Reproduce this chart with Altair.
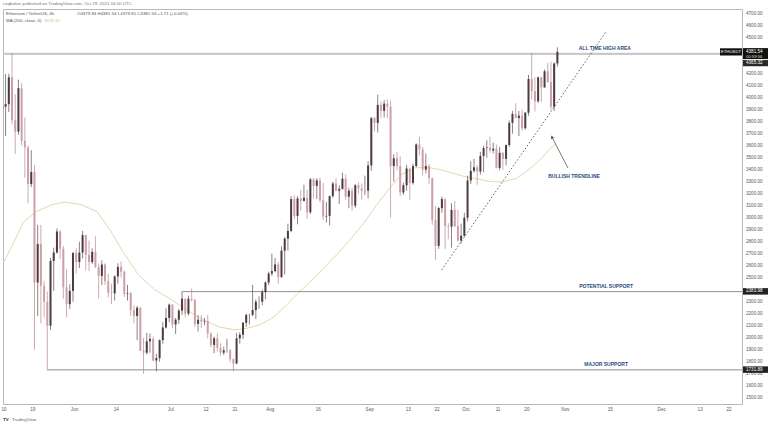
import altair as alt
import pandas as pd

# ---- 4h ETH/USDT chart values (read as daily candles), day 0 = 10 May 2021 ----
days = list(range(-1, 173))
closes = [3925, 3946, 4170, 3812, 3717, 4079, 3640, 3585, 3280, 3380,
          2460, 2780, 2432, 2300, 2100, 2640, 2710, 2885, 2740, 2420,
          2280, 2390, 2705, 2630, 2710, 2855, 2690, 2630, 2715, 2590,
          2515, 2610, 2470, 2375, 2370, 2510, 2590, 2550, 2365, 2370,
          2230, 2180, 2250, 1890, 1875, 1970, 1990, 1810, 1830, 1980,
          2085, 2165, 2275, 2110, 2150, 2225, 2325, 2200, 2325, 2315,
          2115, 2150, 2135, 2140, 2035, 1940, 1995, 1915, 1875, 1895,
          1895, 1820, 1785, 1995, 2025, 2125, 2190, 2190, 2230, 2300,
          2300, 2380, 2460, 2535, 2555, 2610, 2505, 2725, 2825, 2890,
          3155, 3015, 3160, 3140, 3165, 3045, 3320, 3265, 3310, 3145,
          3010, 3015, 3180, 3285, 3225, 3240, 3325, 3175, 3225, 3100,
          3270, 3245, 3225, 3225, 3435, 3830, 3790, 3940, 3890, 3950,
          3925, 3430, 3495, 3430, 3210, 3270, 3410, 3290, 3430, 3610,
          3570, 3400, 3430, 3330, 2980, 2765, 3080, 3155, 2930, 2925,
          3065, 2930, 2810, 2850, 3000, 3310, 3390, 3420, 3385, 3515,
          3580, 3585, 3560, 3575, 3415, 3540, 3490, 3605, 3790, 3865,
          3830, 3850, 3745, 3875, 4155, 4055, 3970, 4170, 4085, 4220,
          4130, 3925, 4285, 4381.54]
opens = [3910] + closes[:-1]
highs = [3980, 4197, 4200, 4372, 4030, 4150, 4120, 3835, 3600, 3562,
         3438, 2940, 2940, 2475, 2385, 2665, 2750, 2910, 2895, 2765,
         2570, 2445, 2715, 2745, 2800, 2890, 2858, 2810, 2745, 2845,
         2620, 2645, 2620, 2530, 2450, 2520, 2620, 2635, 2560, 2440,
         2380, 2270, 2265, 2255, 2000, 2040, 2035, 2010, 1865, 1985,
         2130, 2245, 2285, 2280, 2165, 2240, 2390, 2325, 2350, 2410,
         2325, 2190, 2190, 2165, 2190, 2045, 2010, 2035, 1955, 1925,
         1990, 1905, 1830, 2040, 2045, 2130, 2200, 2200, 2440, 2320,
         2345, 2400, 2470, 2550, 2700, 2665, 2630, 2760, 2840, 2950,
         3180, 3185, 3180, 3230, 3275, 3235, 3330, 3330, 3330, 3335,
         3290, 3130, 3185, 3300, 3330, 3270, 3375, 3360, 3250, 3250,
         3280, 3295, 3285, 3350, 3470, 3840, 3840, 4025, 3970, 3980,
         3985, 3975, 3530, 3550, 3510, 3290, 3440, 3410, 3450, 3620,
         3675, 3590, 3535, 3445, 3335, 3100, 3090, 3175, 3160, 2955,
         3120, 3140, 3065, 2950, 3040, 3350, 3470, 3490, 3440, 3550,
         3600, 3645, 3675, 3625, 3610, 3590, 3545, 3610, 3810, 3890,
         3955, 3890, 3900, 3880, 4190, 4375, 4170, 4175, 4175, 4235,
         4290, 4300, 4295, 4420]
lows = [3780, 3680, 3880, 3780, 3530, 3690, 3600, 3333, 3120, 3255,
        1900, 2180, 2120, 2170, 1732, 2065, 2390, 2700, 2655, 2325,
        2170, 2240, 2300, 2535, 2580, 2660, 2560, 2555, 2615, 2580,
        2325, 2440, 2440, 2335, 2280, 2310, 2450, 2500, 2340, 2310,
        2180, 2120, 1980, 1890, 1700, 1860, 1875, 1805, 1720, 1800,
        1950, 2075, 2130, 2080, 2030, 2115, 2190, 2170, 2185, 2300,
        2090, 2050, 2080, 2105, 1995, 1920, 1870, 1885, 1850, 1855,
        1875, 1795, 1718, 1780, 1950, 1990, 2090, 2110, 2180, 2155,
        2240, 2270, 2320, 2440, 2515, 2545, 2450, 2500, 2525, 2725,
        2880, 2990, 2945, 3060, 3135, 2990, 3030, 3160, 3155, 3130,
        2980, 2960, 2935, 3165, 3220, 3115, 3235, 3150, 3080, 3060,
        3080, 3200, 3150, 3190, 3160, 3390, 3720, 3710, 3830, 3835,
        3830, 3000, 3300, 3395, 3180, 3190, 3225, 3150, 3275, 3420,
        3520, 3350, 3370, 3280, 2940, 2650, 2740, 3040, 2740, 2820,
        2750, 2920, 2800, 2785, 2840, 2970, 3280, 3375, 3275, 3360,
        3380, 3500, 3540, 3535, 3410, 3395, 3400, 3435, 3590, 3700,
        3825, 3680, 3725, 3735, 3850, 3985, 3885, 3955, 3965, 4085,
        4125, 3900, 3890, 4260]

# MA (200, close)
ma_days = [-0.3, 3, 6, 10, 15, 19, 24, 29, 33, 37, 42, 47, 52, 57, 62, 67, 72, 76,
           80, 84, 88, 92, 96, 100, 104, 108, 112, 116, 120, 124, 128, 132, 136,
           140, 144, 148, 152, 156, 160, 164, 167, 170, 172.2]
ma_vals = [2620, 2790, 2960, 3050, 3110, 3130, 3110, 3050, 2900, 2720, 2520, 2400,
           2320, 2230, 2150, 2090, 2065, 2080, 2110, 2170, 2270, 2380, 2480, 2590,
           2700, 2820, 2950, 3100, 3240, 3360, 3415, 3420, 3400, 3370, 3340, 3320,
           3300, 3300, 3330, 3410, 3480, 3570, 3620]

# horizontal levels
level_names = ["ath", "potential", "major"]
level_prices = [4365.32, 2383.98, 1731.89]
level_start = [-0.31, 55.8, 13.4]
level_labels = ["4365.32", "2383.98", "1731.89"]

# trendline
trend_days = [136.4, 187.6]
trend_prices = [2564, 4547]

# annotations
ann_text = ["ALL TIME HIGH AREA", "BULLISH TRENDLINE", "POTENTIAL SUPPORT", "MAJOR SUPPORT"]
ann_days = [187.3, 177.7, 187.7, 187.7]
ann_prices = [4414, 3348, 2431, 1781]

arrow_days = [175.8, 170.8]
arrow_prices = [3414, 3672]

# axis ticks (price labels hidden by the price boxes are not shown, as in the reference)
tick_days = [0, 9, 22, 35, 52, 63, 72, 83, 98, 114, 126, 135, 144, 154, 163, 175, 189, 205, 217, 226]
tick_labels = ["10", "19", "Jun", "14", "Jul", "12", "21", "Aug", "16", "Sep", "13", "22",
               "Oct", "11", "20", "Nov", "15", "Dec", "13", "22"]
price_ticks = [1500, 1600, 1700, 1800, 1900, 2000, 2100, 2200, 2300, 2500, 2600, 2700,
               2800, 2900, 3000, 3100, 3200, 3300, 3400, 3500, 3600, 3700, 3800, 3900,
               4000, 4100, 4200, 4500, 4600, 4700]

last_price = 4381.54

header_texts = ["rizqbakor published on TradingView.com, Oct 29, 2021 04:00 UTC",
                "Ethereum / TetherUS, 4h",
                "O4379.84  H4381.54  L4379.81  C4381.54  +1.71 (+0.04%)",
                "MA (200, close, 0)",
                "3578.40",
                "TradingView", "TV"]

W, H = 739, 395
FONT = "Liberation Sans"
UP, DN = "#4a3c40", "#cf9fa6"
UPW, DNW = "#5a4a4f", "#b58790"
AX = "#555555"

df = pd.DataFrame({"day": days, "open": opens, "high": highs, "low": lows, "close": closes})
df["mid"] = df["day"] + 0.5

xs = alt.Scale(domain=[-0.31, 230.05], nice=False, zero=False)
ys = alt.Scale(domain=[1447.5, 4739], nice=False, zero=False)

ma = alt.Chart(pd.DataFrame({"d": ma_days, "v": ma_vals})).mark_line(
    color="#e8d6ae", strokeWidth=1, clip=True).encode(
    x=alt.X("d:Q", scale=xs, axis=None), y=alt.Y("v:Q", scale=ys, axis=None))

base = alt.Chart(df)
wicks = base.mark_rule(strokeWidth=0.7, clip=True).encode(
    x=alt.X("mid:Q", axis=None),
    y=alt.Y("low:Q", axis=None),
    y2="high:Q",
    color=alt.condition("datum.close >= datum.open", alt.value(UPW), alt.value(DNW)),
)
bodies = base.mark_rule(strokeWidth=2.0, clip=True).encode(
    x=alt.X("mid:Q", axis=None),
    y=alt.Y("open:Q", axis=None),
    y2="close:Q",
    color=alt.condition("datum.close >= datum.open", alt.value(UP), alt.value(DN)),
)

# axis labels drawn through the shared scales
xlab = alt.Chart(pd.DataFrame({"d": tick_days, "t": tick_labels})).mark_text(
    font=FONT, fontSize=4.6, color=AX, align="center").encode(
    x=alt.X("d:Q", axis=None), y=alt.value(H + 5.5), text="t:N")
ylab = alt.Chart(pd.DataFrame({"p": price_ticks})).mark_text(
    font=FONT, fontSize=4.6, color=AX, align="left").encode(
    x=alt.value(W + 4), y=alt.Y("p:Q", axis=None), text=alt.Text("p:Q", format=".2f"))

lv = pd.DataFrame({"name": level_names, "price": level_prices, "start": level_start,
                   "label": level_labels, "end": [230.05] * 3})
levels = alt.Chart(lv).mark_rule(clip=True).encode(
    x=alt.X("start:Q", axis=None), x2="end:Q",
    y=alt.Y("price:Q", axis=None),
    color=alt.condition("datum.name == 'ath'", alt.value("#c9c9c9"), alt.value("#8f8f8f")),
    strokeWidth=alt.condition("datum.name == 'ath'", alt.value(2.2), alt.value(1)),
)

trend = alt.Chart(pd.DataFrame({"d": trend_days, "p": trend_prices})).mark_line(
    color="#4d4d4d", strokeWidth=0.9, strokeDash=[1.5, 2]).encode(
    x=alt.X("d:Q", axis=None), y=alt.Y("p:Q", axis=None))

ann = alt.Chart(pd.DataFrame({"t": ann_text, "d": ann_days, "p": ann_prices})).mark_text(
    font=FONT, fontSize=5, fontWeight="bold", color="#2c4a7e", align="center").encode(
    x=alt.X("d:Q", axis=None), y=alt.Y("p:Q", axis=None), text="t:N")

arrow_df = pd.DataFrame({"d": arrow_days, "p": arrow_prices})
arrow_line = alt.Chart(arrow_df).mark_line(color="#555555", strokeWidth=0.8).encode(
    x=alt.X("d:Q", axis=None), y=alt.Y("p:Q", axis=None))
arrow_head = alt.Chart(arrow_df.iloc[[1]]).mark_point(
    shape="triangle-up", filled=True, size=14, angle=333, color="#555555", opacity=1).encode(
    x=alt.X("d:Q", axis=None), y=alt.Y("p:Q", axis=None))

# price-scale label boxes
lvl_box = alt.Chart(lv.iloc[[1, 2]]).mark_rect(color="#222222", yOffset=-3.5, y2Offset=3.0).encode(
    x=alt.value(W + 1), x2=alt.value(W + 26),
    y=alt.Y("price:Q", axis=None), y2="price:Q")
lvl_txt = alt.Chart(lv.iloc[[1, 2]]).mark_text(
    font=FONT, fontSize=4.6, color="white", align="left", dy=-0.3).encode(
    x=alt.value(W + 4), y=alt.Y("price:Q", axis=None), text="label:N")

ath_box = alt.Chart(lv.iloc[[0]]).mark_rect(color="#2a2a2a", yOffset=6.2, y2Offset=12.4).encode(
    x=alt.value(W + 1), x2=alt.value(W + 26),
    y=alt.Y("price:Q", axis=None), y2="price:Q")
ath_txt = alt.Chart(lv.iloc[[0]]).mark_text(
    font=FONT, fontSize=4.6, color="white", align="left", dy=9.3).encode(
    x=alt.value(W + 4), y=alt.Y("price:Q", axis=None), text="label:N")

lp = pd.DataFrame({"price": [last_price], "label": [f"{last_price:.2f}"],
                   "cd": ["00:59:56"], "sym": ["ETHUSDT"]})
lp_box = alt.Chart(lp).mark_rect(color="#111111", yOffset=-3.8, y2Offset=7.2).encode(
    x=alt.value(W + 1), x2=alt.value(W + 26),
    y=alt.Y("price:Q", axis=None), y2="price:Q")
lp_txt = alt.Chart(lp).mark_text(font=FONT, fontSize=4.6, color="white", align="left").encode(
    x=alt.value(W + 4), y=alt.Y("price:Q", axis=None), text="label:N")
lp_cd = alt.Chart(lp).mark_text(font=FONT, fontSize=4.2, color="#dddddd", align="left", dy=5).encode(
    x=alt.value(W + 4), y=alt.Y("price:Q", axis=None), text="cd:N")
sym_box = alt.Chart(lp).mark_rect(color="#111111", yOffset=-3.6, y2Offset=3.6).encode(
    x=alt.value(W - 22), x2=alt.value(W),
    y=alt.Y("price:Q", axis=None), y2="price:Q")
sym_txt = alt.Chart(lp).mark_text(font=FONT, fontSize=4.3, color="white", align="center").encode(
    x=alt.value(W - 11), y=alt.Y("price:Q", axis=None), text="sym:N")

# header / footer texts (positioned in pixels, no data scales)
hdr_pos = [(0, -5, "#777777", "normal"), (3, 5, "#555555", "normal"), (74, 5, "#555555", "normal"),
           (3, 12, "#555555", "normal"), (41, 12, "#d9c089", "normal"),
           (9, H + 16, "#666666", "normal"), (0, H + 16, "#222222", "bold")]
header_layers = []
for txt, (px, py, col, wt) in zip(header_texts, hdr_pos):
    header_layers.append(
        alt.Chart(pd.DataFrame({"t": [txt]})).mark_text(
            font=FONT, fontSize=4.4, align="left", color=col, fontWeight=wt).encode(
            x=alt.value(px), y=alt.value(py), text="t:N"))

chart = alt.layer(
    ma, levels, wicks, bodies, trend, arrow_line, arrow_head, ann, xlab, ylab,
    lvl_box, lvl_txt, ath_box, ath_txt, lp_box, lp_txt, lp_cd, sym_box, sym_txt, *header_layers,
).properties(
    width=W, height=H,
    padding={"left": 3, "top": 9, "right": 26, "bottom": 23},
    autosize=alt.AutoSizeParams(type="none"),
    background="white",
).configure_view(stroke="#b8b8b8", strokeWidth=1)

chart.save("out.html", embed_options={"renderer": "svg", "actions": False})
